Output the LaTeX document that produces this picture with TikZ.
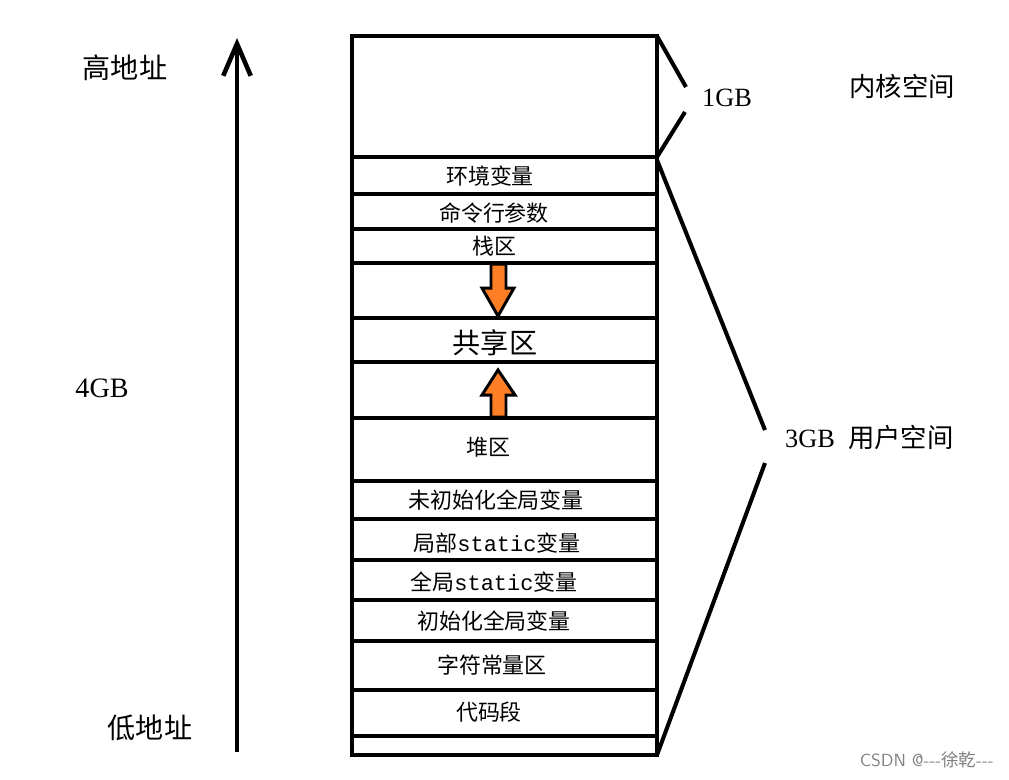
\documentclass[tikz,border=0pt]{standalone}
\usepackage{fontspec}
\setmainfont{Liberation Serif}
\setmonofont{Liberation Mono}
\newfontfamily\zh{Noto Sans CJK SC}
\usetikzlibrary{arrows.meta}
\definecolor{heaporange}{RGB}{255,127,39}
\tikzset{
  seg/.style={line width=2.3pt},
  cell/.style={font=\zh\fontsize{12.5}{14}\selectfont},
  side/.style={font=\zh\fontsize{16}{18}\selectfont},
  growarrow/.style={fill=heaporange,draw=black,line width=1.7pt,line join=miter}
}
\begin{document}
\begin{tikzpicture}[x=0.02cm,y=-0.02cm]
\useasboundingbox (0,0) rectangle (1009,779);
\coordinate (tl) at (352,36);
\coordinate (tr) at (657,36);
\coordinate (bl) at (352,755);
\coordinate (br) at (657,755);
\coordinate (kern) at (657,157);
\coordinate (user) at (657,160);
\draw[seg] (tl) rectangle (br);
\foreach \y in {157,194,229,263,318,362,418,481,519,560,600,641,690,736}
  \draw[seg] (352,\y) -- (657,\y);
\node[cell] (env) at (490,176) {环境变量};
\node[cell] (argv) at (494,213) {命令行参数};
\node[cell] (stack) at (494,246) {栈区};
\node[side] (shared) at (495,343) {共享区};
\node[cell] (heap) at (488,447) {堆区};
\node[cell] (bss) at (496,500) {未初始化全局变量};
\node[cell] (lstatic) at (497,543) {局部\texttt{static}变量};
\node[cell] (gstatic) at (494,582) {全局\texttt{static}变量};
\node[cell] (data) at (494,621) {初始化全局变量};
\node[cell] (rodata) at (492,665) {字符常量区};
\node[cell] (text) at (489,712) {代码段};
% stack grows down, heap grows up
\draw[growarrow] (491,264) -- (506,264) -- (506,288) -- (514,288) -- (498,316) -- (482,288) -- (491,288) -- cycle;
\draw[growarrow] (491,417) -- (506,417) -- (506,395) -- (515,395) -- (498,370) -- (482,395) -- (491,395) -- cycle;
% address axis
\coordinate (low) at (237,752);
\coordinate (high) at (237,38);
\draw[line width=2.6pt,-{Straight Barb[length=0.64cm,width=0.55cm]}] (low) -- (high);
\node[side] (hi) at (125,68) {高地址};
\node[font=\fontsize{16}{18}\selectfont] (total) at (102,388) {4GB};
\node[side] (lo) at (150,728) {低地址};
% braces
\node[font=\fontsize{15}{17}\selectfont,anchor=west] (onegb) at (696,98) {1GB};
\node[font=\zh\fontsize{15}{17}\selectfont] (kspace) at (902,86) {内核空间};
\node[font=\fontsize{15}{17}\selectfont,anchor=west] (threegb) at (779,437) {3GB\enspace{\zh 用户空间}};
\draw[seg] (tr) -- (686,87);
\draw[seg] (685,112) -- (kern);
\draw[seg] (user) -- (765,430);
\draw[seg] (765,463) -- (br);
\node[font=\sffamily\fontsize{10}{12}\selectfont,text=gray,anchor=east] (mark) at (1000,760) {CSDN @{-}{-}{-}{\zh 徐乾}{-}{-}{-}};
\end{tikzpicture}
\end{document}
